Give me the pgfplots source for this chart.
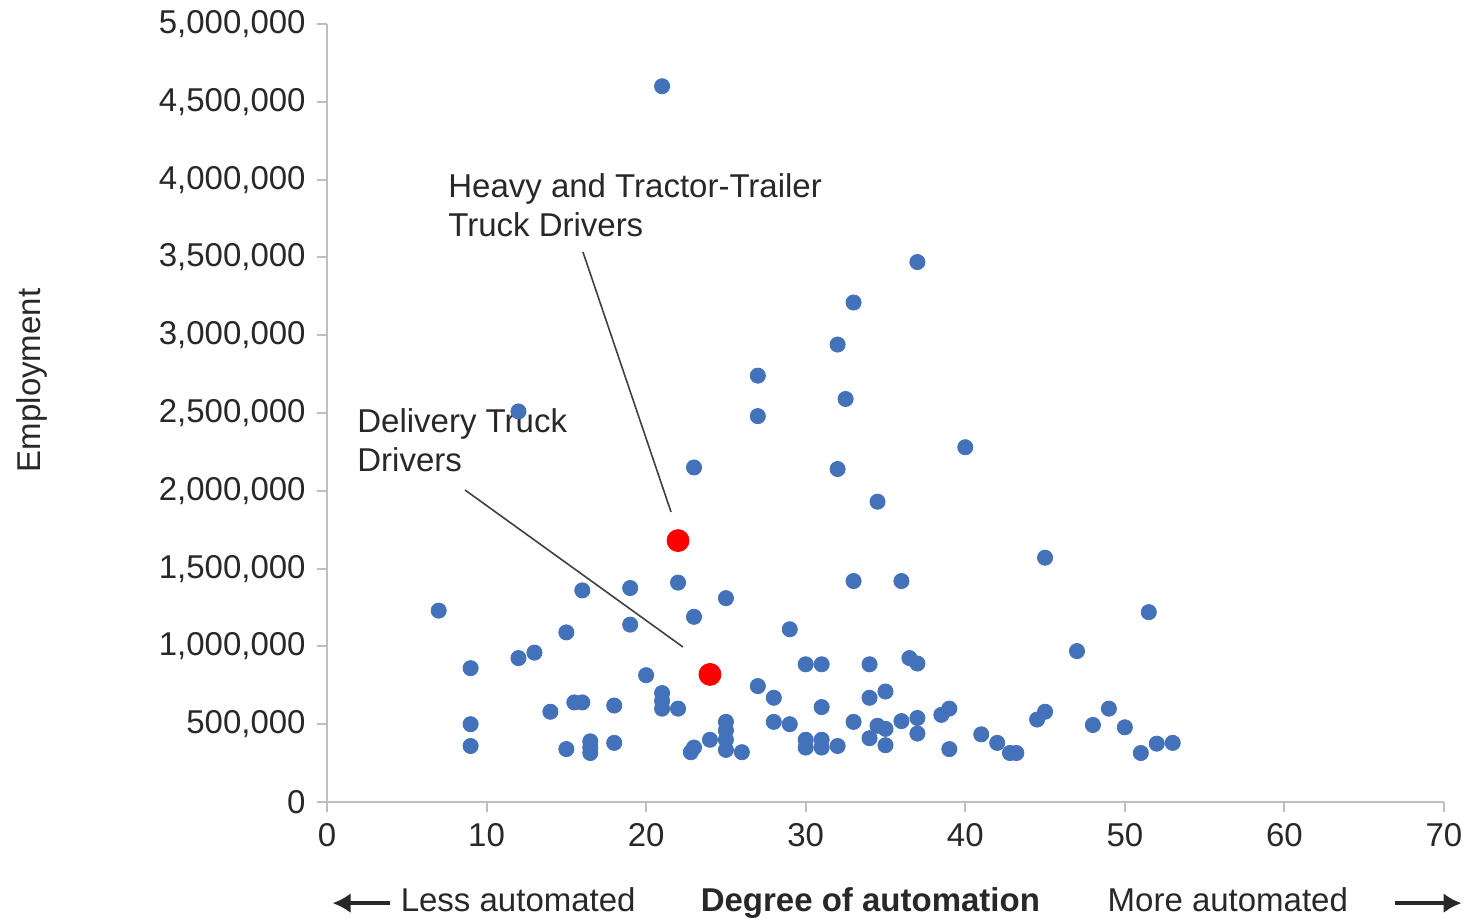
\documentclass[border=0pt]{standalone}
\usepackage{pgfplots}
\pgfplotsset{compat=1.18}
\usetikzlibrary{arrows.meta}
\usepackage{fontspec}
\setmainfont{Liberation Sans}
\definecolor{dotblue}{RGB}{68,114,186}
\definecolor{axgray}{RGB}{190,190,190}
\definecolor{txt}{RGB}{40,40,40}
\begin{document}
\fontsize{16.5}{20}\selectfont
\begin{tikzpicture}
\path[use as bounding box] (-163.5pt,-60.5pt) rectangle (573pt,401pt);
\begin{axis}[
    at={(0,0)}, anchor=south west,
    scale only axis,
    width=558.5pt, height=389pt,
    xmin=0, xmax=70, ymin=0, ymax=5000000,
    xtick={0,10,...,70},
    ytick={0,500000,...,5000000},
    scaled y ticks=false,
    axis lines=left,
    axis line style={axgray, line width=1pt, -},
    tick style={axgray, line width=1pt},
    tick align=outside,
    major tick length=5pt,
    tick label style={font=\fontsize{16.5}{20}\selectfont, text=txt},
    /pgf/number format/assume math mode=true,
    y tick label style={/pgf/number format/.cd, fixed, 1000 sep={,}},
    clip=false,
]
\addplot[only marks, mark=*, mark size=3.8pt, color=dotblue] coordinates {
(21,4600000) (37,3470000) (33,3210000) (32,2940000) (27,2740000)
(32.5,2590000) (12,2510000) (27,2480000) (40,2280000) (23,2150000)
(32,2140000) (34.5,1930000) (45,1570000) (19,1375000) (22,1410000)
(33,1420000) (36,1420000) (16,1360000) (25,1310000) (51.5,1220000)
(7,1230000) (23,1190000) (15,1090000) (19,1140000) (29,1110000)
(47,970000) (13,960000) (12,925000) (36.5,925000) (37,890000)
(30,885000) (31,885000) (34,885000) (9,860000) (20,815000)
(21,700000) (21,650000) (21,600000) (22,600000) (27,745000)
(28,670000) (34,670000) (35,710000) (18,620000) (15.5,640000)
(16,640000) (14,580000) (31,610000) (45,580000) (44.5,530000)
(49,600000) (39,600000) (38.5,560000) (25,515000) (28,515000)
(29,500000) (33,515000) (36,520000) (37,540000) (34.5,490000)
(35,470000) (9,500000) (48,495000) (50,480000) (24,400000)
(25,460000) (25,400000) (25,335000) (37,440000) (34,410000)
(41,435000) (23,350000) (22.8,320000) (26,320000) (30,400000)
(30,350000) (31,400000) (31,350000) (32,360000) (35,365000)
(9,360000) (15,340000) (16.5,390000) (16.5,350000) (16.5,315000)
(18,380000) (39,340000) (42,380000) (42.8,315000) (43.2,315000)
(51,315000) (52,375000) (53,380000)
};
\addplot[only marks, mark=*, mark size=5.5pt, color=red] coordinates {
(22,1680000) (24,820000)
};
\draw[black!75, line width=0.8pt] (axis cs:16.04,3535000) -- (axis cs:21.56,1864000);
\draw[black!75, line width=0.8pt] (axis cs:8.65,2005000) -- (axis cs:22.31,996000);
\node[anchor=north west, inner sep=0pt, align=left, text=txt, font=\fontsize{16.5}{19.5}\selectfont]
  at (axis cs:7.58,4040000) {Heavy and Tractor-Trailer\\Truck Drivers};
\node[anchor=north west, inner sep=0pt, align=left, text=txt, font=\fontsize{16.5}{19.5}\selectfont]
  at (axis cs:1.88,2530000) {Delivery Truck\\Drivers};
\node[rotate=90, text=txt, font=\fontsize{16.5}{20}\selectfont] at (axis cs:-18.5,2710000) {Employment};
\draw[txt, line width=1.8pt, -{Latex[length=9pt,width=10pt]}] (axis cs:3.95,-650000) -- (axis cs:0.35,-650000);
\node[anchor=west, inner sep=0pt, text=txt] at (axis cs:4.6,-655000) {\strut Less automated};
\node[anchor=west, inner sep=0pt, text=txt] at (axis cs:23.4,-655000) {\strut\bfseries Degree of automation};
\node[anchor=west, inner sep=0pt, text=txt] at (axis cs:48.9,-655000) {\strut More automated};
\draw[txt, line width=1.8pt, -{Latex[length=9pt,width=10pt]}] (axis cs:66.9,-650000) -- (axis cs:71.1,-650000);
\end{axis}
\end{tikzpicture}
\end{document}
